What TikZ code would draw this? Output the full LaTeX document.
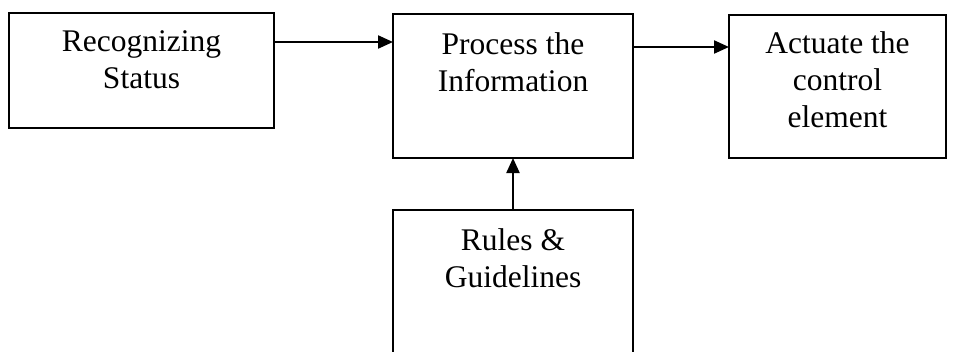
\documentclass[tikz,border=0pt]{standalone}
\usepackage{fontspec}
\setmainfont{Liberation Serif}
\usetikzlibrary{arrows.meta,calc}
\begin{document}
\begin{tikzpicture}[x=1pt,y=-1pt,
  box/.style={draw=black,line width=2.2pt,rectangle,inner sep=0pt,outer sep=0pt},
  txt/.style={align=center,inner sep=0pt,anchor=base,font=\fontsize{31.5pt}{37pt}\selectfont},
  conn/.style={line width=2.2pt,-{Triangle[length=15pt,width=13pt]}}]
\clip (0,0) rectangle (956,351);
\fill[white] (0,0) rectangle (956,351);
\node[box,minimum width=265pt,minimum height=115.3pt] (b1) at (141.5,70.35) {};
\node[box,minimum width=240pt,minimum height=144pt] (b2) at (513,86) {};
\node[box,minimum width=217pt,minimum height=143.3pt] (b3) at (837.5,86.35) {};
\node[box,minimum width=240pt,minimum height=170pt] (b4) at (513,295) {};
\node[txt] (t1) at ($(b1.north)+(0,76)$) {Recognizing\\Status};
\node[txt] (t2) at ($(b2.north)+(0,77)$) {Process the\\Information};
\node[txt] (t3) at ($(b3.north)+(0,113)$) {Actuate the\\control\\element};
\node[txt] (t4) at ($(b4.north)+(0,77)$) {Rules \&\\Guidelines};
\draw[conn] (b1.east|-0,42) -- (b2.west|-0,42);
\draw[conn] (b2.east|-0,47) -- (b3.west|-0,47);
\draw[conn] (b4.north) -- (b2.south);
\end{tikzpicture}
\end{document}
